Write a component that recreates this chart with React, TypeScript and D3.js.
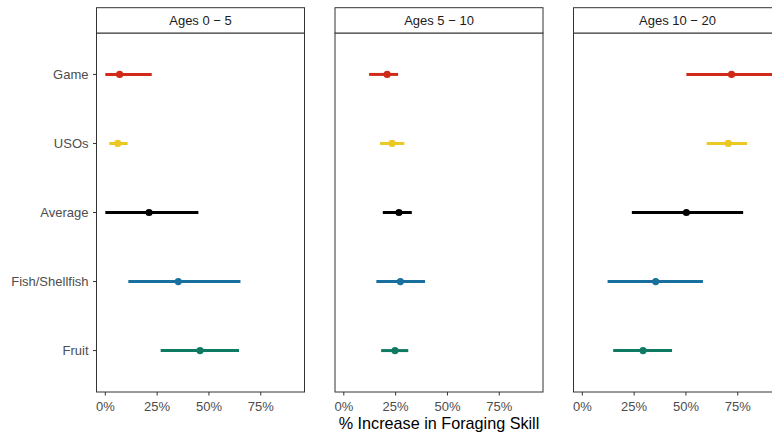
import React from "react";
import * as d3 from "d3";

const categories = ["Game", "USOs", "Average", "Fish/Shellfish", "Fruit"];
const colors = ["#D02A19", "#EBC824", "#000000", "#19709F", "#0F7A62"];
const facets = ["Ages 0 − 5", "Ages 5 − 10", "Ages 10 − 20"];

// per facet, per category
const estimates = [
  [0.069, 0.06, 0.211, 0.352, 0.457],
  [0.209, 0.233, 0.266, 0.273, 0.247],
  [0.72, 0.704, 0.502, 0.354, 0.293],
];
const lowers = [
  [0.0, 0.019, 0.0, 0.111, 0.267],
  [0.122, 0.175, 0.188, 0.157, 0.18],
  [0.502, 0.6, 0.239, 0.122, 0.149],
];
const uppers = [
  [0.224, 0.108, 0.449, 0.652, 0.645],
  [0.262, 0.292, 0.328, 0.392, 0.311],
  [0.95, 0.795, 0.776, 0.582, 0.433],
];
const xTicks = [0, 0.25, 0.5, 0.75];
const xTitle = "% Increase in Foraging Skill";

const W = 772;
const H = 434;
const panelLefts = [96.5, 335, 573.5];
const panelW = 208;
const stripTop = 7.7;
const panelTop = 33;
const panelBottom = 392;
const font = "'Liberation Sans', Arial, Helvetica, sans-serif";

export default function App() {
  const y = d3
    .scalePoint<string>()
    .domain(categories)
    .range([panelTop, panelBottom])
    .padding(0.6);

  return (
    <svg
      width={W}
      height={H}
      style={{ position: "fixed", left: 0, top: 0, display: "block", background: "#fff" }}
      fontFamily={font}
    >
      <defs>
        {panelLefts.map((pl, i) => (
          <clipPath id={`clip${i}`} key={i}>
            <rect x={pl} y={panelTop} width={panelW} height={panelBottom - panelTop} />
          </clipPath>
        ))}
      </defs>
      {facets.map((f, i) => {
        const pl = panelLefts[i];
        const x = d3.scaleLinear().domain([-0.0425, 0.961]).range([pl, pl + panelW]);
        return (
          <g key={f}>
            <rect x={pl} y={panelTop} width={panelW} height={panelBottom - panelTop} fill="#fff" />
            <g clipPath={`url(#clip${i})`}>
              {categories.map((c, j) => (
                <g key={c}>
                  <line
                    x1={x(lowers[i][j])}
                    x2={x(uppers[i][j])}
                    y1={y(c)}
                    y2={y(c)}
                    stroke={colors[j]}
                    strokeWidth={3}
                  />
                  <circle cx={x(estimates[i][j])} cy={y(c)} r={3.6} fill={colors[j]} />
                </g>
              ))}
            </g>
            <rect
              x={pl}
              y={panelTop}
              width={panelW}
              height={panelBottom - panelTop}
              fill="none"
              stroke="#333333"
              strokeWidth={1}
            />
            <rect
              x={pl}
              y={stripTop}
              width={panelW}
              height={panelTop - stripTop}
              fill="#fff"
              stroke="#333333"
              strokeWidth={1}
            />
            <text
              x={pl + panelW / 2}
              y={25}
              textAnchor="middle"
              fontSize={13}
              fill="#1a1a1a"
            >
              {f}
            </text>
            {xTicks.map((t) => (
              <g key={t}>
                <line x1={x(t)} x2={x(t)} y1={panelBottom} y2={panelBottom + 3.5} stroke="#333333" />
                <text
                  x={x(t)}
                  y={411}
                  textAnchor="middle"
                  fontSize={13}
                  fill="#4d4d4d"
                >
                  {d3.format(".0%")(t)}
                </text>
              </g>
            ))}
          </g>
        );
      })}
      {categories.map((c) => (
        <g key={c}>
          <line
            x1={panelLefts[0] - 3.5}
            x2={panelLefts[0]}
            y1={y(c)}
            y2={y(c)}
            stroke="#333333"
          />
          <text
            x={panelLefts[0] - 8}
            y={(y(c) as number) + 4.6}
            textAnchor="end"
            fontSize={13}
            fill="#4d4d4d"
          >
            {c}
          </text>
        </g>
      ))}
      <text
        x={439}
        y={428.5}
        textAnchor="middle"
        fontSize={16.2}
        fill="#000"
      >
        {xTitle}
      </text>
    </svg>
  );
}
